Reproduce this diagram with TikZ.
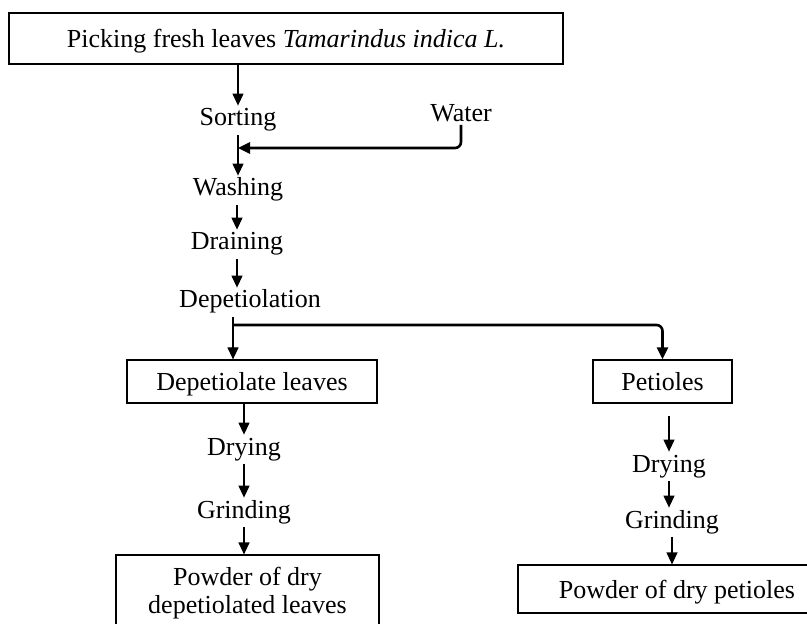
\documentclass[tikz,border=0pt]{standalone}
\usepackage{fontspec}
\setmainfont{Liberation Serif}
\usetikzlibrary{positioning,arrows.meta}

\begin{document}
\begin{tikzpicture}[x=0.5pt, y=-0.5pt,
  box/.style={draw, line width=0.6pt, inner sep=0pt, align=center, font=\fontsize{13}{14}\selectfont},
  tbox/.style={box, text height=10pt, text depth=1pt},
  stp/.style={anchor=base, inner sep=0pt, outer ysep=1.6pt, text height=8.6pt, text depth=2.8pt, font=\fontsize{13}{14}\selectfont},
  arr/.style={-{Triangle[length=6pt, width=5.5pt]}, line width=0.6pt},
  feed/.style={-{Triangle[length=6pt, width=5.5pt]}, line width=1.3pt, rounded corners=3pt}]
\useasboundingbox (0,0) rectangle (807,624);
\node[tbox, minimum width=277pt, minimum height=25.5pt] (pick) at (286,38.5) {Picking fresh leaves \textit{Tamarindus indica L.}};
\node[stp] (sort) at (238,126) {Sorting};
\node[stp] (water) at (461,122) {Water};
\node[stp] (wash) at (238,196) {Washing};
\node[stp] (drain) at (237,250) {Draining};
\node[stp] (depet) at (250,308) {Depetiolation};
\node[tbox, minimum width=125pt, minimum height=21.5pt] (dleaves) at (252,381.5) {Depetiolate leaves};
\node[tbox, minimum width=69.5pt, minimum height=21.5pt] (pet) at (662.5,381.5) {Petioles};
\node[stp] (dry1) at (244,455) {Drying};
\node[stp] (grind1) at (244,518) {Grinding};
\node[box, minimum width=131.5pt, minimum height=38.5pt] (pow1) at (247.5,593.5) {Powder of dry\\depetiolated leaves};
\node[stp] (dry2) at (669,472) {Drying};
\node[stp] (grind2) at (672,528) {Grinding};
\node[tbox, minimum width=159pt, minimum height=24pt] (pow2) at (677,589) {Powder of dry petioles};
\coordinate (join) at (238,148);
\coordinate (split) at (233,325);
\draw[arr] (pick.south -| sort) -- (sort);
\draw[arr] (sort) -- (wash);
\draw[feed, shorten <=1.5pt] (water.base) |- (join);
\draw[arr] (wash.south -| drain) -- (drain);
\draw[arr] (drain.south) -- (drain.south |- depet.north);
\draw[line width=0.6pt] (depet.south -| split) -- (split);
\draw[arr] (split) -- (split |- dleaves.north);
\draw[feed] (split) -| (pet.north);
\draw[arr] (dleaves.south -| dry1) -- (dry1);
\draw[arr] (dry1) -- (grind1);
\draw[arr] (grind1.south) -- (grind1.south |- pow1.north);
\draw[arr, shorten <=6pt] (pet.south -| dry2) -- (dry2);
\draw[arr] (dry2.south) -- (dry2.south |- grind2.north);
\draw[arr] (grind2.south) -- (grind2.south |- pow2.north);
\end{tikzpicture}
\end{document}
